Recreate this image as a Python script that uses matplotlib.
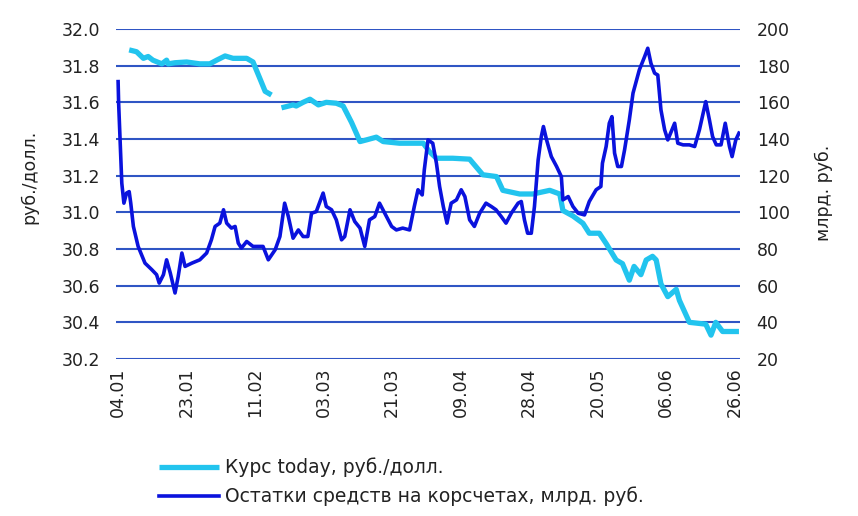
import numpy as np
import matplotlib
matplotlib.use("Agg")
import matplotlib.pyplot as plt

plt.rcParams['font.family'] = ['DejaVu Sans']

# trading-day index of each tick label
tick_days = [0, 13, 26, 39, 52, 65, 78, 91, 104, 117]
tick_labels = ['04.01', '23.01', '11.02', '03.03', '21.03', '09.04', '28.04', '20.05', '06.06', '26.06']

# Курс today, руб./долл. (left axis); nan = gap in the series
kurs_days = [2.1, 3.5, 4.8, 5.7, 6.6, 8.3, 9.2, 9.5, 10.8, 13.0, 15.5, 17.4, 18.7, 20.3, 21.8, 24.4,
             25.6, 26.9, 27.9, 29.1, 30.0, 31.0, 33.2, 33.8, 35.1, 36.4, 38.0, 39.5, 41.4, 42.7, 44.3,
             45.9, 47.1, 49.0, 50.3, 53.4, 57.9, 59.1, 60.4, 63.5, 66.7, 69.2, 71.8, 73.0, 76.2, 78.7,
             81.9, 83.8, 84.4, 86.3, 88.2, 89.4, 91.3, 92.6, 94.5, 95.7, 97.0, 97.9, 99.2, 100.2, 101.4,
             102.1, 103.0, 104.3, 105.9, 106.5, 108.4, 111.5, 112.5, 113.4, 114.7, 117.8]
kurs = [31.886, 31.876, 31.84, 31.85, 31.83, 31.81, 31.83, 31.81, 31.816, 31.82, 31.81, 31.81, 31.83,
        31.853, 31.84, 31.84, 31.82, 31.73, 31.66, 31.64, np.nan, 31.57, 31.586, 31.58, 31.60, 31.617,
        31.586, 31.60, 31.595, 31.58, 31.49, 31.386, 31.395, 31.41, 31.386, 31.377, 31.377, 31.33,
        31.295, 31.295, 31.29, 31.205, 31.195, 31.12, 31.10, 31.10, 31.12, 31.10, 31.01, 30.98, 30.94,
        30.886, 30.886, 30.83, 30.74, 30.72, 30.63, 30.705, 30.66, 30.74, 30.76, 30.74, 30.61, 30.54,
        30.58, 30.52, 30.40, 30.39, 30.33, 30.40, 30.35, 30.35]

# Остатки средств на корсчетах, млрд. руб. (right axis)
ost_days = [0.0, 0.1, 0.4, 0.7, 1.1, 1.6, 2.1, 2.4, 2.9, 3.8, 5.1, 6.4, 7.3, 7.8, 8.6, 9.2, 9.9, 10.8,
            11.4, 12.1, 12.7, 14.0, 15.5, 16.8, 17.7, 18.4, 19.3, 20.0, 20.6, 21.5, 22.2, 22.8, 23.4,
            24.4, 25.6, 27.5, 28.5, 29.8, 30.7, 31.6, 32.3, 33.2, 34.2, 35.1, 36.0, 36.7, 37.6, 38.9,
            39.5, 40.5, 41.4, 42.4, 43.0, 44.0, 44.9, 45.9, 46.8, 47.7, 48.7, 49.6, 50.6, 51.9, 52.8,
            54.0, 55.3, 56.2, 56.9, 57.7, 58.1, 58.8, 59.7, 60.4, 61.0, 61.7, 62.4, 63.2, 64.2, 65.1,
            65.8, 66.7, 67.6, 68.6, 69.8, 70.8, 71.7, 72.7, 73.6, 74.6, 75.9, 76.5, 77.1, 77.7, 78.4,
            79.0, 79.7, 80.3, 80.7, 81.3, 82.2, 83.2, 84.1, 84.4, 85.4, 86.3, 87.3, 88.5, 89.4, 90.7,
            91.6, 91.9, 92.6, 93.2, 93.7, 94.2, 94.8, 95.5, 96.1, 97.0, 97.7, 98.9, 99.9, 100.5, 101.1,
            101.8, 102.4, 103.0, 103.7, 104.3, 105.6, 106.2, 107.2, 108.4, 109.4, 110.3, 111.5, 112.2,
            112.8, 113.5, 114.4, 115.2, 116.0, 116.5, 117.2, 117.8]
ost = [171.3, 159.5, 137.7, 115.9, 105, 110.5, 111.3, 105, 92.3, 81.4, 72.3, 68.7, 66, 61.4, 66, 74.1,
       66.9, 56, 65, 77.8, 70.5, 72.3, 74.1, 77.8, 85, 92.3, 94.1, 101.4, 94.1, 91.4, 92.3, 83.2, 80.5,
       84.1, 81.4, 81.4, 74.1, 79.6, 86.8, 105, 97.7, 85.9, 90.4, 86.8, 86.8, 99.5, 100.4, 110.5,
       103.2, 101.4, 95.9, 85, 86.8, 101.4, 95, 91.4, 81.4, 95.9, 97.7, 105, 99.5, 92.3, 90.4, 91.4,
       90.4, 103.2, 112.3, 109.5, 123.2, 139.5, 137.7, 126.8, 114.1, 103.2, 94.1, 105, 106.8, 112.3,
       108.6, 95.9, 92.3, 99.5, 105, 103.2, 101.4, 97.7, 94.1, 99.5, 105, 105.9, 95.9, 88.6, 88.6,
       103.2, 128.6, 141.3, 146.8, 139.5, 130.4, 125, 119.5, 106.8, 108.6, 103.2, 99.5, 98.6, 105.9,
       112.3, 114.1, 126.8, 135.9, 148.6, 152.2, 132.3, 125, 125, 134.1, 150.4, 165, 177.7, 184.9,
       189.5, 181.3, 175.9, 174.9, 155.9, 145, 139.5, 148.6, 137.7, 136.8, 136.8, 135.9, 145, 160.4,
       150.4, 141.3, 136.8, 136.8, 148.6, 135.9, 130.4, 139.5, 143.2]

text_color = '#222222'

fig = plt.figure(figsize=(8.58, 5.16), dpi=100)
ax = fig.add_axes([116 / 858, 1 - 359 / 516, 624 / 858, 330 / 516])
ax2 = ax.twinx()

ln1, = ax.plot(kurs_days, kurs, color='#22c4ee', lw=3.8, solid_capstyle='butt',
               label='Курс today, руб./долл.')
ln2, = ax2.plot(ost_days, ost, color='#0a12dd', lw=2.6, label='Остатки средств на корсчетах, млрд. руб.')

ax.set_xlim(-0.4, 118)
ax.set_ylim(30.2, 32.0)
ax.set_yticks(np.arange(30.2, 32.01, 0.2))
ax.set_yticklabels([f'{v:.1f}' for v in np.arange(30.2, 32.01, 0.2)])
ax2.set_ylim(20, 200)
ax2.set_yticks(np.arange(20, 201, 20))

ax.grid(True, axis='y', color='#2f55c4', lw=1.5)
ax.set_axisbelow(True)
ax.set_xticks(tick_days)
ax.set_xticklabels(tick_labels, rotation=90)

for a in (ax, ax2):
    for s in a.spines.values():
        s.set_visible(False)
    a.tick_params(length=0, labelsize=12.5, labelcolor=text_color)
ax.tick_params(axis='y', pad=11.5)
ax.tick_params(axis='x', pad=6)
ax2.tick_params(axis='y', pad=12)

ax.set_ylabel('руб./долл.', fontsize=12.5, color=text_color)
ax.yaxis.set_label_coords(-0.125, 0.552)
ax2.set_ylabel('млрд. руб.', fontsize=12.5, color=text_color, rotation=90)
ax2.yaxis.set_label_coords(1.120, 0.503)

fig.legend(handles=[ln1, ln2], loc='upper left', bbox_to_anchor=(150 / 858, 1 - 448 / 516),
           frameon=False, fontsize=13.5, handlelength=3.2, handletextpad=0.3, borderpad=0,
           labelspacing=0.5, labelcolor=text_color)

fig.savefig('out.png', dpi=100, facecolor='white')
